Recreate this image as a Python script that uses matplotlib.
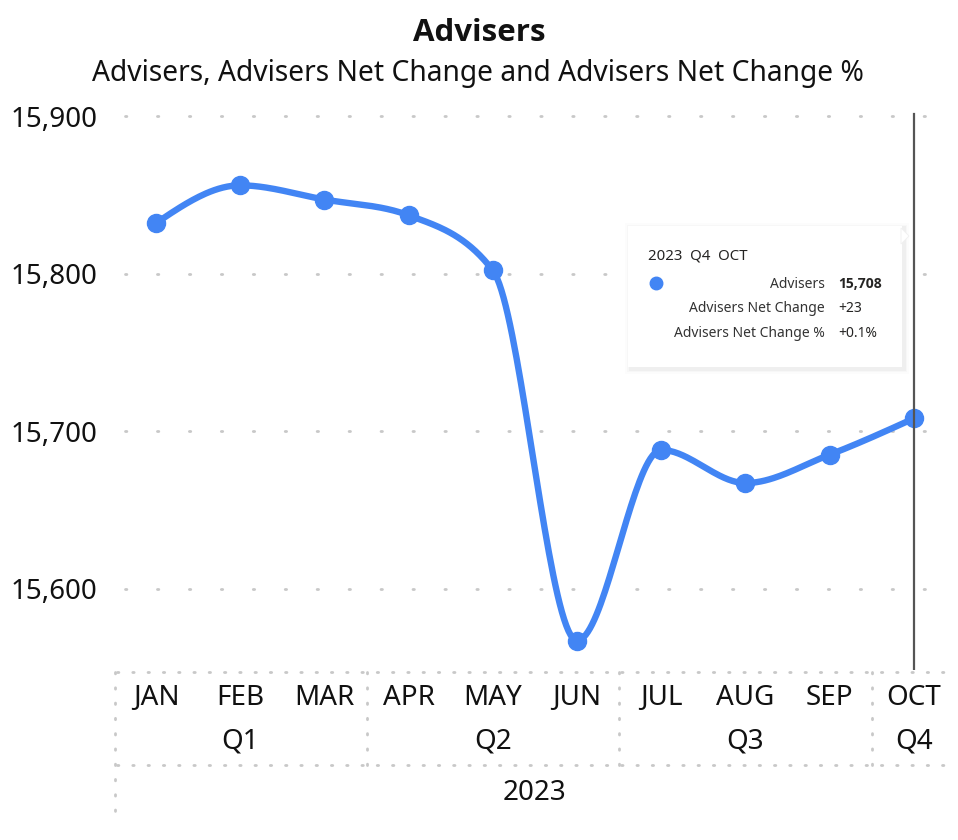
import numpy as np
import matplotlib
matplotlib.use("Agg")
import matplotlib.pyplot as plt
from matplotlib.patches import FancyBboxPatch, Polygon
from matplotlib.ticker import FuncFormatter

plt.rcParams['font.family'] = ['Noto Sans', 'DejaVu Sans']
BOLD_FAMILY = ['Open Sans', 'DejaVu Sans']

# data
months = ['JAN', 'FEB', 'MAR', 'APR', 'MAY', 'JUN', 'JUL', 'AUG', 'SEP', 'OCT']
quarters = ['Q1', 'Q2', 'Q3', 'Q4']
quarter_months = [3, 3, 3, 1]
year = '2023'
advisers = [15832, 15856, 15847, 15837, 15802, 15567, 15688, 15667, 15685, 15708]
y_ticks = [15600, 15700, 15800, 15900]

BLUE = '#4285f4'
W, H = 958, 840


def monotone_x(xs, ys, n=40):
    # d3 curveMonotoneX style smoothing (Steffen)
    xs = np.asarray(xs, float)
    ys = np.asarray(ys, float)
    h = np.diff(xs)
    s = np.diff(ys) / h
    m = np.zeros(len(xs))
    for i in range(1, len(xs) - 1):
        p = (s[i - 1] * h[i] + s[i] * h[i - 1]) / (h[i - 1] + h[i])
        m[i] = (np.sign(s[i - 1]) + np.sign(s[i])) * min(abs(s[i - 1]), abs(s[i]), 0.5 * abs(p))
    m[0] = (3 * s[0] - m[1]) / 2
    m[-1] = (3 * s[-1] - m[-2]) / 2
    out_x, out_y = [], []
    for i in range(len(xs) - 1):
        t = np.linspace(0, 1, n)
        h00 = 2 * t**3 - 3 * t**2 + 1
        h10 = t**3 - 2 * t**2 + t
        h01 = -2 * t**3 + 3 * t**2
        h11 = t**3 - t**2
        out_x.append(xs[i] + t * h[i])
        out_y.append(h00 * ys[i] + h10 * h[i] * m[i] + h01 * ys[i + 1] + h11 * h[i] * m[i + 1])
    return np.concatenate(out_x), np.concatenate(out_y)


def fx(px):
    return px / W


def fy(py):
    return 1 - py / H


fig = plt.figure(figsize=(W / 100, H / 100), dpi=100)

# axes: left 117px, right 945px, top 108px, bottom 670px
ax = fig.add_axes([fx(117), fy(670), fx(945) - fx(117), fy(108) - fy(670)])
x = np.arange(len(months))
ax.set_xlim(-0.463, 9.37)
ax.set_ylim(15548.3, 15905.1)

for yt in y_ticks:
    ax.axhline(yt, xmin=0.01, xmax=1, color='#c8c8c8', lw=2, ls=(0, (0.5, 11)),
               dash_capstyle='round', zorder=1)
ax.set_yticks(y_ticks)
ax.yaxis.set_major_formatter(FuncFormatter(lambda v, _: f'{v:,.0f}'))
ax.tick_params(axis='y', length=0, labelsize=20, pad=14, labelcolor='#111111')
ax.set_xticks([])
for sp in ax.spines.values():
    sp.set_visible(False)

sx, sy = monotone_x(x, advisers)
ax.plot(sx, sy, color=BLUE, lw=4.6, solid_capstyle='round', zorder=3)
ax.plot(x, advisers, 'o', color=BLUE, ms=13, zorder=4)

# hover line at the last point
ax.axvline(x[-1], ymin=0, ymax=0.99, color='#555555', lw=1.6, zorder=5)

# hierarchical category axis
dot = dict(color='#c8c8c8', lw=2, ls=(0, (0.5, 5)), dash_capstyle='round')
trans = ax.get_xaxis_transform()
fig.add_artist(plt.Line2D([fx(117), fx(945)], [fy(672), fy(672)], **dot))
fig.add_artist(plt.Line2D([fx(117), fx(945)], [fy(765), fy(765)], **dot))
fig.add_artist(plt.Line2D([fx(115), fx(115)], [fy(672), fy(822)], **dot))

start = 0
for q, nm in zip(quarters, quarter_months):
    centre = start + (nm - 1) / 2
    ax.text(centre, -0.128, q, transform=trans, ha='center', va='center',
            fontsize=20, color='#111111')
    if start > 0:
        ax.plot([start - 0.5, start - 0.5], [-0.004, -0.17], transform=trans,
                clip_on=False, **dot)
    start += nm

for i, mth in enumerate(months):
    ax.text(i, -0.05, mth, transform=trans, ha='center', va='center',
            fontsize=20, color='#111111')
ax.text((len(months) - 1) / 2, -0.218, year, transform=trans, ha='center',
        va='center', fontsize=20, color='#111111')

# titles
fig.text(fx(479), fy(33), 'Advisers', ha='center', va='center', fontsize=22.5,
         fontweight='bold', family=BOLD_FAMILY, color='#111111')
fig.text(fx(478), fy(73), 'Advisers, Advisers Net Change and Advisers Net Change %',
         ha='center', va='center', fontsize=20.3, color='#111111')

# tooltip with soft shadow
for k, a in [(5, 0.012), (3, 0.02), (1.5, 0.03)]:
    fig.add_artist(FancyBboxPatch((fx(628 - k + 2), fy(367 + k + 2)), fx(274 + 2 * k),
                                  fy(0) - fy(141 + 2 * k),
                                  boxstyle='square,pad=0', fc='black', ec='none', alpha=a,
                                  transform=fig.transFigure, zorder=8))
fig.add_artist(FancyBboxPatch((fx(628), fy(367)), fx(274), fy(0) - fy(141),
                              boxstyle='square,pad=0', fc='white', ec='none',
                              transform=fig.transFigure, zorder=9))
fig.add_artist(Polygon([[fx(901), fy(228)], [fx(909), fy(236)], [fx(901), fy(244)]],
                       closed=True, fc='white', ec='#f0f0f0', lw=0.6,
                       transform=fig.transFigure, zorder=9))
fig.text(fx(648), fy(256), '2023  Q4  OCT', ha='left', va='center', fontsize=10.8,
         color='#252423', zorder=10)
fig.add_artist(plt.Line2D([fx(656)], [fy(283)], marker='o', ms=9, color=BLUE,
                          transform=fig.transFigure, zorder=10))
rows = [('Advisers', '15,708', 'bold', 284),
        ('Advisers Net Change', '+23', 'normal', 309),
        ('Advisers Net Change %', '+0.1%', 'normal', 334)]
for lab, val, wt, py in rows:
    fig.text(fx(825), fy(py), lab, ha='right', va='center', fontsize=10,
             color='#333333', zorder=10)
    fig.text(fx(838), fy(py), val, ha='left', va='center', fontsize=10,
             fontweight=wt, family=BOLD_FAMILY if wt == 'bold' else None,
             color='#252423', zorder=10)

fig.savefig('out.png', dpi=100, facecolor='white')
